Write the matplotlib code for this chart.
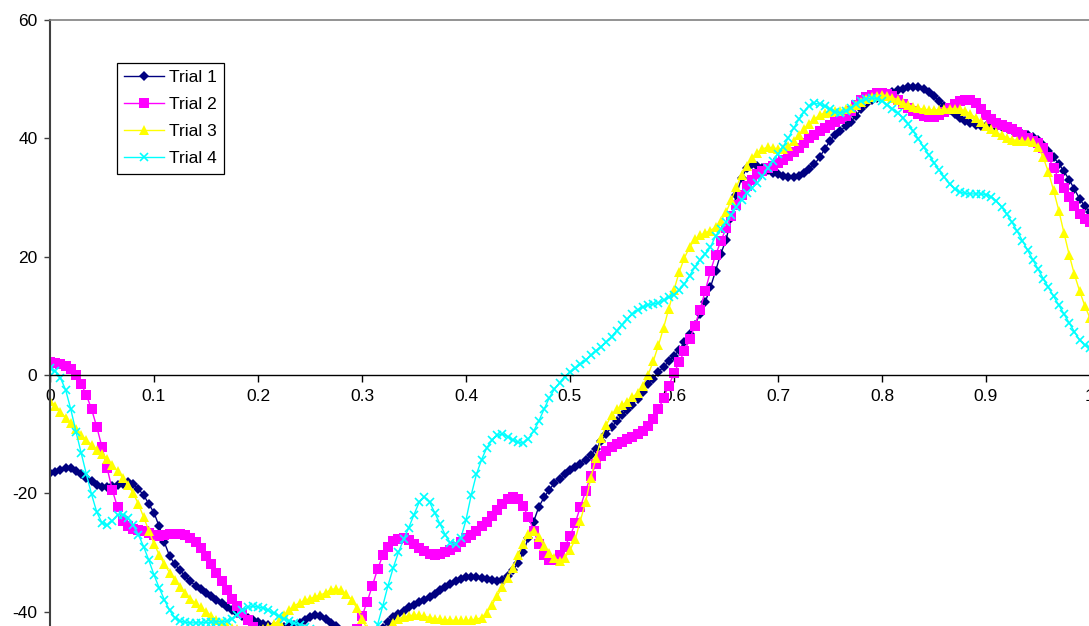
import numpy as np
import matplotlib
matplotlib.use("Agg")
import matplotlib.pyplot as plt

x_start, x_stop, x_step = 0.0, 1.0, 0.005

trial1 = [
    -16.6, -16.4, -16.0, -15.7, -15.8, -16.2, -16.8, -17.4, -18.0, -18.6,
    -19.0, -19.0, -18.7, -18.6, -18.4, -18.1, -18.4, -19.3, -20.3, -21.8,
    -23.3, -25.6, -28.3, -30.6, -32.0, -33.0, -34.0, -34.9, -35.6, -36.2,
    -36.8, -37.4, -38.0, -38.6, -39.3, -39.8, -40.2, -40.7, -41.1, -41.5,
    -41.8, -42.1, -42.3, -42.5, -42.6, -42.6, -42.5, -42.3, -42.0, -41.4,
    -40.9, -40.6, -40.7, -41.2, -41.9, -42.5, -43.2, -43.8, -44.3, -44.6,
    -44.8, -44.7, -44.3, -43.6, -42.7, -41.8, -40.9, -40.4, -39.9, -39.3,
    -38.8, -38.4, -38.0, -37.6, -37.0, -36.4, -35.9, -35.4, -34.9, -34.5,
    -34.2, -34.1, -34.1, -34.3, -34.5, -34.7, -34.8, -34.6, -34.0, -33.0,
    -31.8, -30.0, -27.5, -24.8, -22.3, -20.7, -19.4, -18.3, -17.5, -16.7,
    -16.0, -15.5, -15.0, -14.3, -13.5, -12.5, -11.2, -9.9, -8.8, -7.8,
    -6.8, -5.9, -5.0, -4.0, -2.8, -1.6, -0.6, 0.5, 1.4, 2.3,
    3.2, 4.2, 5.6, 7.0, 8.5, 10.3, 12.3, 14.8, 17.6, 20.5,
    22.8, 26.5, 30.5, 33.3, 35.0, 35.6, 35.4, 35.0, 34.6, 34.2,
    33.9, 33.6, 33.5, 33.5, 33.7, 34.2, 34.8, 35.6, 36.8, 38.2,
    39.6, 40.6, 41.3, 42.0, 42.8, 43.8, 44.9, 45.8, 46.4, 46.8,
    47.1, 47.4, 47.8, 48.1, 48.4, 48.6, 48.7, 48.6, 48.3, 47.8,
    47.1, 46.3, 45.5, 44.8, 44.1, 43.5, 43.0, 42.6, 42.3, 42.1,
    42.0, 41.9, 41.9, 41.9, 41.7, 41.4, 41.1, 40.8, 40.6, 40.3,
    39.7, 38.8, 37.8, 36.8, 35.7, 34.4, 33.0, 31.4, 29.8, 28.5,
    27.5,
]

trial2 = [
    2.2, 2.1, 1.9, 1.6, 1.0, 0.0, -1.5, -3.4, -5.8, -8.8,
    -12.2, -15.8, -19.5, -22.4, -24.6, -25.6, -26.0, -26.2, -26.4, -26.7,
    -27.0, -27.2, -27.1, -26.9, -26.8, -26.8, -27.0, -27.5, -28.2, -29.3,
    -30.6, -32.0, -33.4, -34.9, -36.4, -37.8, -39.1, -40.3, -41.5, -42.6,
    -43.6, -44.4, -45.0, -45.4, -45.7, -45.8, -45.8, -45.7, -45.6, -45.5,
    -45.4, -45.4, -45.5, -45.7, -46.0, -46.3, -46.5, -46.0, -44.8, -43.0,
    -40.8, -38.3, -35.6, -32.8, -30.5, -29.0, -28.1, -27.7, -27.6, -27.9,
    -28.5, -29.2, -29.8, -30.2, -30.4, -30.3, -30.0, -29.6, -29.0, -28.3,
    -27.6, -27.0, -26.3, -25.6, -24.8, -23.9, -22.9, -21.8, -20.9, -20.6,
    -21.0, -22.2, -24.0, -26.3, -28.6, -30.4, -31.3, -31.2, -30.4, -29.0,
    -27.3, -25.0, -22.3, -19.6, -17.1, -15.1, -13.7, -12.8, -12.2, -11.7,
    -11.3, -10.9, -10.5, -10.0, -9.4, -8.6, -7.4, -5.8, -3.9, -1.8,
    0.3, 2.2, 4.0, 6.0, 8.3, 11.0, 14.2, 17.5, 20.3, 22.6,
    24.8, 26.8, 28.7, 30.5, 31.9, 33.0, 33.9, 34.5, 35.0, 35.4,
    35.8, 36.3, 37.0, 37.7, 38.4, 39.2, 40.0, 40.6, 41.2, 41.8,
    42.3, 42.7, 43.2, 43.8, 44.6, 45.6, 46.4, 47.0, 47.4, 47.6,
    47.6, 47.5, 47.1, 46.5, 45.8, 45.1, 44.6, 44.1, 43.8, 43.6,
    43.6, 43.9, 44.4, 45.1, 45.8, 46.3, 46.5, 46.4, 45.9, 45.0,
    44.0, 43.2, 42.6, 42.2, 41.9, 41.5, 41.0, 40.5, 40.0, 39.6,
    39.2, 38.3, 36.8, 35.0, 33.2, 31.6, 30.0, 28.5, 27.2, 26.3,
    25.8,
]

trial3 = [
    -4.4, -5.2, -6.2, -7.2, -8.2, -9.2, -10.2, -11.0, -11.8, -12.6,
    -13.4, -14.2, -15.2, -16.3, -17.4, -18.6, -20.0, -21.8, -24.0, -26.3,
    -28.5, -30.4, -32.0, -33.4, -34.7, -35.8, -36.9, -37.8, -38.6, -39.3,
    -40.0, -40.7, -41.4, -42.0, -42.5, -42.8, -43.0, -43.2, -43.3, -43.3,
    -43.2, -43.0, -42.6, -42.1, -41.6, -40.6, -39.7, -39.0, -38.5, -38.1,
    -37.8, -37.5, -37.2, -36.8, -36.3, -36.1, -36.4, -37.0, -38.0, -39.4,
    -41.2, -43.0, -44.5, -45.0, -44.3, -43.1, -41.9, -41.2, -40.9, -40.7,
    -40.6, -40.6, -40.8, -41.0, -41.2, -41.3, -41.4, -41.4, -41.5, -41.5,
    -41.5, -41.4, -41.3, -41.0, -40.2, -38.9, -37.3, -35.9, -34.4, -32.6,
    -30.5, -28.6, -26.8, -26.3, -27.4, -28.9, -30.1, -31.0, -31.4, -30.9,
    -29.6, -27.8, -24.6, -21.5, -17.4, -14.0, -10.7, -8.4, -6.8, -5.8,
    -5.1, -4.5, -3.8, -3.0, -1.8, 0.0, 2.3, 5.0, 8.0, 11.2,
    14.4, 17.4, 19.8, 21.6, 22.9, 23.6, 24.0, 24.4, 25.0, 26.0,
    27.5, 29.5, 31.8, 33.8, 35.3, 36.6, 37.6, 38.2, 38.5, 38.4,
    38.2, 38.2, 38.7, 39.6, 40.6, 41.6, 42.5, 43.3, 43.9, 44.3,
    44.5, 44.6, 44.7, 44.9, 45.2, 45.7, 46.2, 46.7, 47.0, 47.2,
    47.3, 47.2, 46.9, 46.5, 46.0, 45.6, 45.3, 45.1, 44.9, 44.8,
    44.8, 44.8, 44.9, 45.0, 45.0, 44.9, 44.6, 44.1, 43.5, 42.8,
    42.1, 41.5, 41.0, 40.5, 40.1, 39.8, 39.6, 39.5, 39.5, 39.3,
    38.5, 36.8, 34.3, 31.2, 27.8, 24.0, 20.3, 17.0, 14.2, 11.7,
    9.6,
]

trial4 = [
    1.2, 0.6, -0.5, -2.5, -5.8, -9.6, -13.2, -16.8, -20.2, -23.2,
    -25.0, -25.4, -24.6, -23.6, -23.6, -24.2, -25.4, -27.0, -29.0, -31.3,
    -33.8, -36.0, -38.0, -39.8, -41.0, -41.6, -41.8, -41.9, -41.9, -41.9,
    -41.8, -41.8, -41.7, -41.7, -41.6, -41.2, -40.5, -39.8, -39.3, -39.1,
    -39.2, -39.4, -39.8, -40.3, -40.8, -41.2, -41.6, -41.9, -42.2, -42.6,
    -43.0, -43.4, -43.8, -44.3, -44.8, -45.4, -46.0, -46.6, -47.0, -47.2,
    -47.0, -46.2, -44.6, -42.2, -39.0, -35.6, -32.6, -30.0, -27.8, -25.8,
    -23.6, -21.5, -20.6, -21.5, -23.3, -25.2, -27.0, -28.4, -28.6, -27.6,
    -24.5, -20.3, -16.8, -14.3, -12.3, -11.0, -10.2, -10.0, -10.4, -11.0,
    -11.4, -11.5, -10.8, -9.5, -7.8, -5.8, -3.9, -2.4, -1.3, -0.3,
    0.5, 1.1, 1.8, 2.5, 3.3, 4.1, 4.8, 5.6, 6.5, 7.5,
    8.5, 9.4, 10.3, 11.0, 11.5, 11.8, 12.0, 12.2, 12.6, 13.1,
    13.6, 14.3, 15.4, 16.8, 18.2, 19.5, 20.5, 21.6, 23.5, 24.7,
    25.8, 27.1, 28.4, 29.6, 30.7, 31.6, 32.5, 33.6, 34.9, 36.2,
    37.4, 38.6, 40.1, 41.7, 43.2, 44.5, 45.5, 45.9, 45.8, 45.4,
    44.9, 44.5, 44.3, 44.6, 45.2, 45.8, 46.3, 46.6, 46.8, 46.7,
    46.3, 45.7, 45.0, 44.3, 43.5, 42.5, 41.2, 39.9, 38.5, 37.2,
    35.9, 34.6, 33.4, 32.3, 31.4, 30.9, 30.7, 30.6, 30.6, 30.6,
    30.5, 30.1, 29.4, 28.4, 27.2, 25.8, 24.3, 22.7, 21.1, 19.5,
    17.9, 16.3, 14.8, 13.3, 11.8, 10.3, 8.8, 7.3, 5.9, 5.0,
    4.6,
]

labels = ["Trial 1", "Trial 2", "Trial 3", "Trial 4"]
x_ticks = [0, 0.1, 0.2, 0.3, 0.4, 0.5, 0.6, 0.7, 0.8, 0.9, 1]
x_ticklabels = ["0", "0.1", "0.2", "0.3", "0.4", "0.5", "0.6", "0.7", "0.8", "0.9", "1"]
y_ticks = [-40, -20, 0, 20, 40, 60]
y_ticklabels = ["-40", "-20", "0", "20", "40", "60"]

series = [trial1, trial2, trial3, trial4]
n = len(trial1)
for s in series:
    assert len(s) == n, (len(s), n)
x = np.linspace(x_start, x_stop, n)

plt.rcParams['font.family'] = ['Liberation Sans', 'DejaVu Sans']
plt.rcParams['axes.unicode_minus'] = False

W, H = 1089, 626
fig = plt.figure(figsize=(W / 100, H / 100), dpi=100)
ax_left, ax_right, ax_top = 50, 1090, 20
ax = fig.add_axes([ax_left / W, 0, (ax_right - ax_left) / W, 1 - ax_top / H])

styles = [
    dict(color="#000080", marker="D", ms=5.5, mew=0),
    dict(color="#FF00FF", marker="s", ms=6.6, mew=0),
    dict(color="#FFFF00", marker="^", ms=7.5, mew=0),
    dict(color="#00FFFF", marker="x", ms=6.0, mew=1.2),
]
for s, lab, st in zip(series, labels, styles):
    ax.plot(x, s, lw=1.0, label=lab, clip_on=True, **st)

ax.set_xlim(0, 1)
ax.set_ylim(-42.43, 60)
ax.set_xticks(x_ticks)
ax.set_xticklabels(x_ticklabels)
ax.set_yticks(y_ticks)
ax.set_yticklabels(y_ticklabels)

ax.spines['bottom'].set_position(('data', 0))
ax.spines['bottom'].set_color('black')
ax.spines['bottom'].set_linewidth(1.0)
ax.spines['left'].set_color('#404040')
ax.spines['left'].set_linewidth(1.5)
ax.spines['top'].set_color('#808080')
ax.spines['top'].set_linewidth(1.2)
ax.spines['right'].set_visible(False)

fs = 12.5
ax.tick_params(axis='x', direction='out', length=5, width=1, colors='black',
               labelsize=fs, pad=5)
ax.tick_params(axis='y', direction='out', length=4, width=1, color='#404040',
               labelcolor='black', labelsize=fs, pad=5)

leg = ax.legend(loc='upper left', bbox_to_anchor=(117 / W, 1 - 63 / H),
                bbox_transform=fig.transFigure, borderaxespad=0,
                fancybox=False, shadow=False, framealpha=1, edgecolor='black',
                fontsize=fs, numpoints=1, handlelength=2.3, handletextpad=0.25,
                labelspacing=0.68, borderpad=0.42)
leg.get_frame().set_linewidth(0.9)

fig.savefig("out.png", dpi=100)
